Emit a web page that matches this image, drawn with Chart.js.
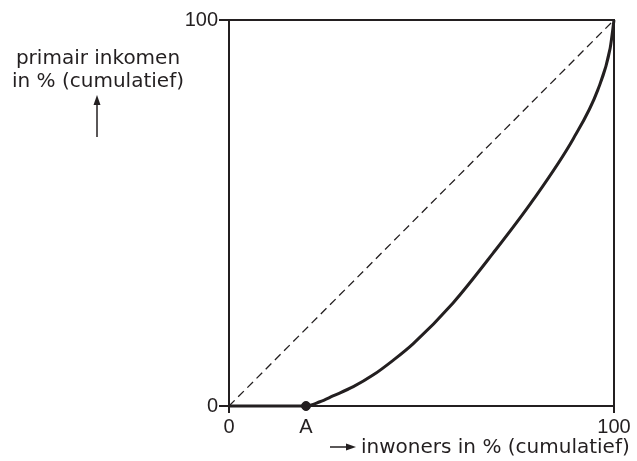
<!DOCTYPE html>
<html>
<head>
<meta charset="utf-8">
<script src="https://cdn.jsdelivr.net/npm/chart.js@4/dist/chart.umd.min.js"></script>
<style>
html,body{margin:0;padding:0;background:#fff;}
#wrap{width:637px;height:461px;position:relative;}
</style>
</head>
<body>
<div id="wrap"><canvas id="c" width="637" height="461"></canvas></div>
<script>
// Data
const curveX = [0, 20, 23.6, 27.0, 32.3, 37.4, 42.7, 47.8, 58.2, 68.6, 79.0, 89.4, 95.8, 99.0, 100];
const curveY = [0, 0, 1.1, 2.6, 5.0, 8.0, 11.9, 16.1, 26.7, 39.6, 53.4, 69.2, 81.9, 92.7, 100];
const diagX = [0, 100];
const diagY = [0, 100];
const pointA = {x: 20, y: 0};
const xTickValues = [0, 20, 100];
const xTickLabels = ['0', 'A', '100'];
const yTickValues = [0, 100];
const yTickLabels = ['0', '100'];
const yTitleLines = ['primair inkomen', 'in % (cumulatief)'];
const xTitle = 'inwoners in % (cumulatief)';

const INK = '#231f20';
const FONT = 'DejaVu Sans';
const TICKFONT = 'Liberation Sans';

const framePlugin = {
  id: 'frame',
  afterDraw(chart) {
    const {ctx, chartArea: a} = chart;
    ctx.save();
    ctx.strokeStyle = INK;
    ctx.lineWidth = 2;
    ctx.strokeRect(a.left, a.top, a.right - a.left, a.bottom - a.top);
    ctx.fillStyle = INK;
    ctx.font = '20px "' + FONT + '"';
    ctx.textAlign = 'center';
    ctx.textBaseline = 'alphabetic';
    ctx.fillText(yTitleLines[0], 98, 64);
    ctx.fillText(yTitleLines[1], 98, 87);
    // up arrow
    ctx.lineWidth = 1.5;
    ctx.beginPath(); ctx.moveTo(97, 137); ctx.lineTo(97, 101); ctx.stroke();
    ctx.beginPath(); ctx.moveTo(97, 95); ctx.lineTo(93.5, 105); ctx.lineTo(100.5, 105); ctx.closePath(); ctx.fill();
    // x title
    ctx.textAlign = 'left';
    ctx.fillText(xTitle, 361, 453);
    ctx.beginPath(); ctx.moveTo(330, 447); ctx.lineTo(350, 447); ctx.stroke();
    ctx.beginPath(); ctx.moveTo(356, 447); ctx.lineTo(346, 443.5); ctx.lineTo(346, 450.5); ctx.closePath(); ctx.fill();
    ctx.restore();
  }
};

new Chart(document.getElementById('c'), {
  type: 'scatter',
  data: {
    datasets: [
      {
        type: 'line', order: 2,
        data: diagX.map((x, i) => ({x, y: diagY[i]})),
        borderColor: INK, borderWidth: 1.3, borderDash: [8, 5],
        pointRadius: 0, fill: false
      },
      {
        type: 'line', order: 1, clip: false,
        data: curveX.map((x, i) => ({x, y: curveY[i]})),
        borderColor: INK, borderWidth: 3,
        cubicInterpolationMode: 'monotone',
        pointRadius: 0, fill: false
      },
      {
        order: 0, clip: false,
        data: [pointA],
        backgroundColor: INK, borderColor: INK,
        pointRadius: 4.5
      }
    ]
  },
  options: {
    responsive: false,
    animation: false,
    layout: {padding: {left: 0, top: 20, right: 23, bottom: 15}},
    plugins: {legend: {display: false}, tooltip: {enabled: false}},
    scales: {
      x: {
        type: 'linear', min: 0, max: 100,
        afterBuildTicks(s) { s.ticks = xTickValues.map(v => ({value: v})); },
        afterFit(s) { s.height = 40; },
        ticks: {
          color: INK, font: {family: TICKFONT, size: 20}, padding: 2, maxRotation: 0,
          callback: (v) => xTickLabels[xTickValues.indexOf(v)]
        },
        grid: {
          drawOnChartArea: false, tickLength: 7, lineWidth: 2,
          tickColor: (c) => (c.tick && c.tick.value === 20) ? 'rgba(0,0,0,0)' : INK
        },
        border: {display: true, color: INK, width: 2}
      },
      y: {
        type: 'linear', min: 0, max: 100,
        afterBuildTicks(s) { s.ticks = yTickValues.map(v => ({value: v})); },
        afterFit(s) { s.width = 229; },
        ticks: {
          color: INK, font: {family: TICKFONT, size: 20}, padding: 1,
          callback: (v) => yTickLabels[yTickValues.indexOf(v)]
        },
        grid: {drawOnChartArea: false, tickLength: 10, lineWidth: 2, tickColor: INK},
        border: {display: true, color: INK, width: 2}
      }
    }
  },
  plugins: [framePlugin]
});
</script>
</body>
</html>
